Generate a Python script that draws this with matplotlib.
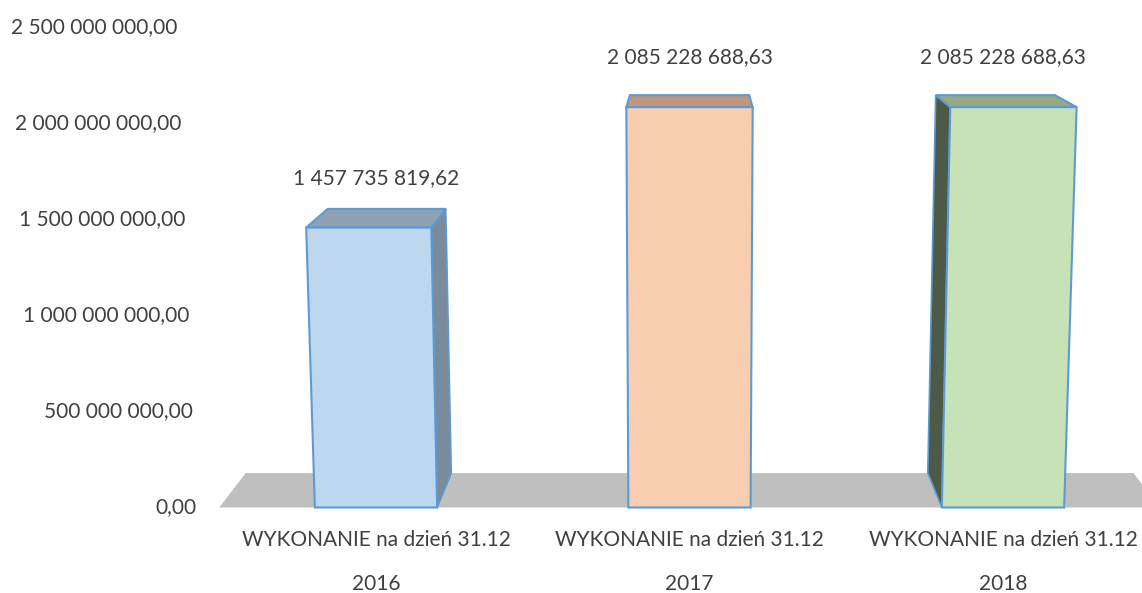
import matplotlib.pyplot as plt
from matplotlib.patches import Polygon

plt.rcParams['font.family'] = ['Lato', 'DejaVu Sans']

# dane
categories = ["WYKONANIE na dzień 31.12", "WYKONANIE na dzień 31.12", "WYKONANIE na dzień 31.12"]
years = ["2016", "2017", "2018"]
values = [1457735819.62, 2085228688.63, 2085228688.63]
value_labels = ["1 457 735 819,62", "2 085 228 688,63", "2 085 228 688,63"]
yticks = [0, 500e6, 1000e6, 1500e6, 2000e6, 2500e6]
ytick_labels = ["0,00", "500 000 000,00", "1 000 000 000,00",
                "1 500 000 000,00", "2 000 000 000,00", "2 500 000 000,00"]

front_colors = ['#BDD7EE', '#F8CDB0', '#C8E2B8']
top_colors = ['#8FA2B4', '#C0967E', '#96A983']
side_colors = ['#7A8B9B', '#A57E69', '#4E5A48']
edge = '#5B9BD5'
txt = '#404040'
W, H = 1142, 593

fig = plt.figure(figsize=(W / 100, H / 100), dpi=100)
ax = fig.add_axes([219.25 / W, 85.5 / H, 940.5 / W, 480 / H])
ax.set_xlim(-0.5, 2.5)
ax.set_ylim(0, 2500e6)
ax.axis('off')

# perspektywa (piksele ekranu)
vp = (690.0, H + 107.0)
k = 0.944
xc, y0, lean = 689.0, 85.5, 8.3e-5
inv = ax.transData.inverted()


def proj(x, y, back=False):
    px, py = ax.transData.transform((x, y))
    px = xc + (px - xc) * (1 + lean * (py - y0))
    if back:
        px = vp[0] + k * (px - vp[0])
        py = vp[1] + k * (py - vp[1])
    return inv.transform((px, py))


# podloga
floor = [proj(-0.5, 0), proj(2.5, 0), proj(2.5, 0, True), proj(-0.5, 0, True)]
ax.add_patch(Polygon(floor, closed=True, facecolor='#BFBFBF', edgecolor='none', clip_on=False))

w = 0.39
for i, v in enumerate(values):
    l, r = i - w / 2, i + w / 2
    fbl, fbr, ftr, ftl = proj(l, 0), proj(r, 0), proj(r, v), proj(l, v)
    bbl, bbr, btr, btl = proj(l, 0, True), proj(r, 0, True), proj(r, v, True), proj(l, v, True)
    if btl[0] < ftl[0]:
        ax.add_patch(Polygon([fbl, ftl, btl, bbl], facecolor=side_colors[i], edgecolor=edge, lw=1.2, clip_on=False))
    if btr[0] > ftr[0]:
        ax.add_patch(Polygon([fbr, ftr, btr, bbr], facecolor=side_colors[i], edgecolor=edge, lw=1.2, clip_on=False))
    ax.add_patch(Polygon([ftl, ftr, btr, btl], facecolor=top_colors[i], edgecolor=edge, lw=1.5, clip_on=False))
    ax.add_patch(Polygon([fbl, fbr, ftr, ftl], facecolor=front_colors[i], edgecolor=edge, lw=1.5, clip_on=False))
    ax.annotate(value_labels[i], (i, v), xytext=(0, 50), textcoords='offset pixels',
                ha='center', va='center', fontsize=15, color=txt)
    ax.annotate(categories[i], (i, 0), xytext=(0, -33), textcoords='offset pixels',
                ha='center', va='center', fontsize=15, color=txt, annotation_clip=False)
    ax.annotate(years[i], (i, 0), xytext=(0, -77), textcoords='offset pixels',
                ha='center', va='center', fontsize=15, color=txt, annotation_clip=False)

# etykiety osi Y (pochylone jak sciana)
for t, lab in zip(yticks, ytick_labels):
    p = proj(-0.5 - 22.25 / 313.5, t)
    ax.text(p[0], t, lab, ha='right', va='center', fontsize=15, color=txt, clip_on=False)

fig.savefig('out.png', dpi=100)
